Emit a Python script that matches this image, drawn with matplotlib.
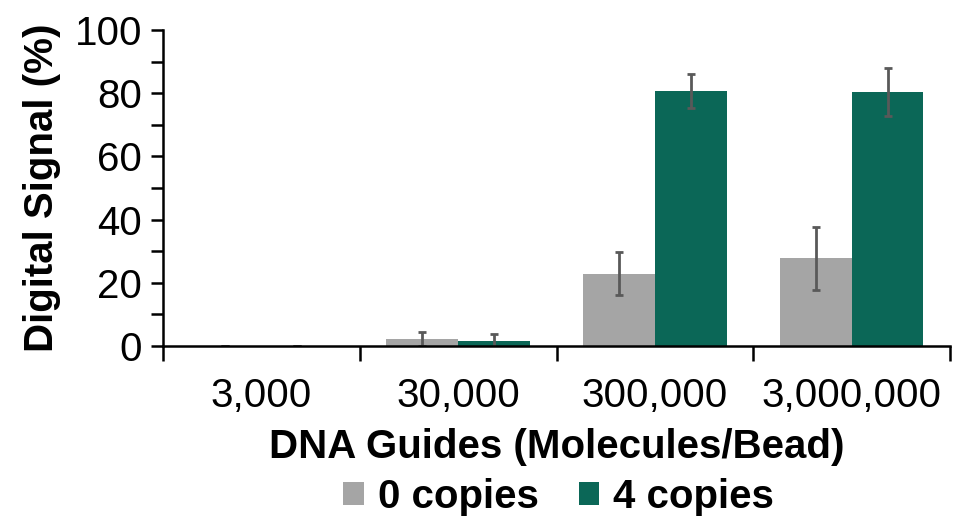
import matplotlib
matplotlib.use("Agg")
import matplotlib.pyplot as plt
import numpy as np

plt.rcParams['font.family'] = ['Liberation Sans', 'DejaVu Sans']

categories = ["3,000", "30,000", "300,000", "3,000,000"]
series_names = ["0 copies", "4 copies"]
values_0 = [0.0, 2.2, 22.8, 27.8]
errors_0 = [0.0, 2.2, 6.8, 10.0]
values_4 = [0.0, 1.7, 80.7, 80.4]
errors_4 = [0.0, 2.0, 5.5, 7.6]

colors = ["#A5A5A5", "#0B6757"]
err_color = "#595959"
fs = 29

fig = plt.figure(figsize=(9.55, 5.2), dpi=100)
ax = fig.add_axes([0.1707, 0.3346, 0.8241, 0.6077])

x = np.arange(len(categories))
w = 0.365
ek = dict(ecolor=err_color, elinewidth=2, capsize=3, capthick=2)
ax.bar(x - w / 2, values_0, w, yerr=errors_0, color=colors[0],
       label=series_names[0], error_kw=ek, zorder=2)
ax.bar(x + w / 2, values_4, w, yerr=errors_4, color=colors[1],
       label=series_names[1], error_kw=ek, zorder=2)

ax.set_xlim(-0.5, len(categories) - 0.5)
ax.set_ylim(0, 100)

for s in ["top", "right"]:
    ax.spines[s].set_visible(False)
for s in ["left", "bottom"]:
    ax.spines[s].set_linewidth(1.8)
    ax.spines[s].set_color("black")

ax.set_yticks(np.arange(0, 101, 20))
ax.set_yticks(np.arange(10, 100, 20), minor=True)
ax.tick_params(axis="y", which="both", direction="out", length=9, width=1.8,
               labelsize=fs, pad=6)

# category boundaries carry the tick marks, centres carry the labels
ax.set_xticks(np.arange(-0.5, len(categories), 1.0))
ax.set_xticklabels([])
ax.set_xticks(x, minor=True)
ax.set_xticklabels(categories, minor=True)
ax.tick_params(axis="x", which="major", direction="out", length=11, width=1.8)
ax.tick_params(axis="x", which="minor", length=0, labelsize=fs, pad=22)

ax.set_ylabel("Digital Signal (%)", fontsize=fs, fontweight="bold", labelpad=10)
ax.set_xlabel("DNA Guides (Molecules/Bead)", fontsize=fs, fontweight="bold",
              labelpad=10)

leg = fig.legend(loc="center", bbox_to_anchor=(0.585, 0.044), ncol=2,
                 frameon=False, prop=dict(size=fs, weight="bold"),
                 handlelength=0.5, handleheight=0.5, handletextpad=0.35,
                 columnspacing=1.0, borderpad=0)

fig.savefig("out.png", dpi=100)
